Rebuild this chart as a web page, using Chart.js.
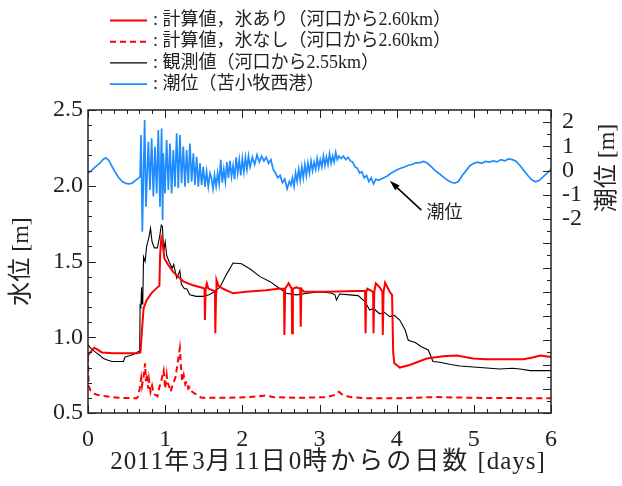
<!DOCTYPE html>
<html>
<head>
<meta charset="utf-8">
<script src="https://cdn.jsdelivr.net/npm/chart.js@4.4.1/dist/chart.umd.min.js"></script>
<style>
body{margin:0;background:#fff}
canvas{display:block}
</style>
</head>
<body>
<canvas id="levelChart" width="622" height="486"></canvas>
<script>
var seriesLabels = [
  ': 計算値，氷あり（河口から2.60km）',
  ': 計算値，氷なし（河口から2.60km）',
  ': 観測値（河口から2.55km）',
  ': 潮位（苫小牧西港）'
];
var xTitle = '2011年3月11日0時からの日数 [days]';
var yTitle = '水位 [m]';
var y2Title = '潮位 [m]';

// computed, with ice
var iceDays = [0.00,0.03,0.08,0.12,0.18,0.33,0.50,0.65,0.68,0.70,0.72,0.76,0.82,0.91,0.925,0.935,0.95,0.97,0.99,1.04,1.10,1.17,1.24,1.35,1.48,1.51,1.515,1.525,1.54,1.56,1.62,1.645,1.65,1.66,1.665,1.69,1.75,1.88,2.05,2.31,2.46,2.54,2.545,2.555,2.60,2.64,2.645,2.655,2.70,2.75,2.757,2.765,2.80,3.10,3.59,3.597,3.605,3.62,3.695,3.70,3.71,3.73,3.78,3.815,3.82,3.83,3.85,3.91,3.94,3.955,3.97,4.04,4.17,4.39,4.60,4.78,4.99,5.16,5.64,5.75,5.86,6.00];
var iceLevels = [0.88,0.90,0.93,0.92,0.90,0.894,0.894,0.894,0.90,1.05,1.19,1.245,1.29,1.334,1.34,1.55,1.653,1.61,1.52,1.477,1.433,1.40,1.367,1.345,1.327,1.32,1.114,1.32,1.356,1.32,1.31,1.30,1.026,1.30,1.378,1.34,1.32,1.29,1.30,1.31,1.32,1.32,1.015,1.32,1.356,1.32,1.026,1.32,1.33,1.32,1.07,1.32,1.30,1.30,1.307,1.026,1.30,1.32,1.30,1.026,1.30,1.356,1.33,1.30,1.015,1.30,1.36,1.30,1.28,0.90,0.828,0.80,0.817,0.86,0.875,0.88,0.86,0.855,0.855,0.865,0.88,0.87];

// computed, without ice
var noIceDays = [0.00,0.005,0.01,0.03,0.07,0.12,0.21,0.40,0.63,0.65,0.67,0.69,0.70,0.72,0.74,0.75,0.76,0.78,0.79,0.81,0.83,0.85,0.87,0.90,0.92,0.95,0.98,0.99,1.00,1.02,1.03,1.05,1.07,1.10,1.13,1.15,1.17,1.19,1.205,1.22,1.24,1.26,1.28,1.30,1.32,1.35,1.41,1.47,1.80,2.10,2.30,2.40,2.70,3.10,3.20,3.25,3.30,3.40,3.60,4.00,4.50,5.00,6.00];
var noIceLevels = [0.88,0.75,0.68,0.65,0.63,0.62,0.612,0.60,0.597,0.61,0.66,0.73,0.68,0.74,0.828,0.71,0.755,0.66,0.72,0.64,0.68,0.63,0.62,0.61,0.66,0.715,0.78,0.73,0.66,0.75,0.70,0.68,0.64,0.69,0.73,0.79,0.86,0.927,0.81,0.71,0.75,0.69,0.71,0.66,0.67,0.64,0.62,0.60,0.60,0.605,0.615,0.605,0.60,0.605,0.62,0.64,0.62,0.605,0.598,0.597,0.605,0.60,0.597];

// observed
var obsDays = [0.00,0.05,0.10,0.155,0.20,0.25,0.31,0.40,0.46,0.48,0.55,0.60,0.65,0.67,0.675,0.685,0.695,0.70,0.71,0.72,0.74,0.76,0.79,0.81,0.83,0.86,0.90,0.93,0.95,0.965,0.98,1.00,1.02,1.05,1.09,1.11,1.15,1.19,1.21,1.25,1.28,1.32,1.40,1.49,1.57,1.62,1.71,1.80,1.88,1.99,2.10,2.23,2.36,2.46,2.57,2.70,2.85,3.00,3.16,3.20,3.22,3.26,3.39,3.50,3.59,3.65,3.70,3.78,3.84,3.91,3.97,4.04,4.11,4.15,4.24,4.32,4.41,4.47,4.56,4.70,4.82,5.08,5.34,5.50,5.60,5.73,6.00];
var obsLevels = [0.95,0.92,0.90,0.88,0.86,0.85,0.84,0.84,0.84,0.87,0.88,0.89,0.905,0.91,1.21,1.20,1.33,1.22,1.24,1.53,1.50,1.60,1.66,1.72,1.63,1.59,1.59,1.67,1.74,1.73,1.565,1.63,1.54,1.50,1.455,1.48,1.39,1.44,1.35,1.32,1.32,1.28,1.27,1.27,1.28,1.295,1.33,1.42,1.49,1.485,1.45,1.40,1.367,1.33,1.29,1.28,1.29,1.30,1.29,1.28,1.245,1.285,1.28,1.275,1.235,1.18,1.19,1.155,1.165,1.136,1.145,1.114,1.048,0.98,0.965,0.937,0.916,0.84,0.835,0.82,0.81,0.80,0.79,0.795,0.79,0.78,0.78];

// tide at Tomakomai west port (right axis)
var tideDays = [0.00,0.05,0.10,0.15,0.20,0.23,0.27,0.31,0.35,0.40,0.45,0.50,0.54,0.58,0.62,0.66,0.675,
  0.687,0.704,0.734,0.751,0.782,0.803,0.825,0.847,0.868,0.890,0.911,0.933,0.954,0.967,0.976,0.997,1.019,1.041,1.062,1.084,1.105,1.127,1.149,1.170,1.192,1.213,1.235,1.257,1.278,1.300,1.321,1.343,1.365,1.386,1.408,1.429,1.451,1.473,1.494,1.516,1.537,1.559,1.581,
  1.60,1.62,1.64,1.66,1.68,1.70,1.72,1.74,1.76,1.78,1.80,1.82,1.84,1.86,1.88,1.90,1.92,1.94,1.96,1.98,2.00,2.02,2.04,2.06,2.08,2.10,2.13,2.16,2.19,2.22,2.25,2.28,2.31,2.34,2.37,2.40,2.43,2.46,2.49,2.52,2.55,2.58,2.61,2.63,2.65,2.67,2.69,2.71,2.73,2.75,2.77,2.79,2.81,2.83,2.85,2.87,2.89,2.91,2.93,2.95,2.97,2.99,3.01,3.03,3.05,3.07,3.09,3.11,3.13,3.15,3.17,3.19,3.21,3.23,3.25,3.28,3.31,3.34,3.37,3.40,3.43,3.46,3.49,3.52,3.55,3.58,3.61,3.64,3.67,3.70,3.73,
  3.76,3.80,3.84,3.88,3.92,3.96,4.00,4.05,4.10,4.15,4.20,4.25,4.30,4.35,4.40,4.45,4.50,4.55,4.60,4.65,4.70,4.75,4.80,4.85,4.90,4.95,5.00,5.05,5.10,5.15,5.20,5.25,5.30,5.35,5.40,5.45,5.50,5.55,5.60,5.65,5.70,5.75,5.80,5.85,5.90,5.95,6.00];
var tideLevels = [-0.10,0.02,0.16,0.30,0.47,0.53,0.42,0.18,-0.05,-0.30,-0.46,-0.54,-0.55,-0.50,-0.39,-0.30,-0.25,
  1.47,-2.52,2.09,-1.49,1.19,-0.80,1.33,-1.07,0.99,-0.94,1.67,-1.49,1.74,-2.04,0.71,-0.94,1.26,-0.80,1.12,-0.94,0.85,-0.66,1.54,-0.73,1.47,-0.52,0.99,-0.66,0.85,-0.52,1.12,-0.46,0.71,-0.59,0.57,-0.66,0.30,-0.59,0.16,-0.66,-0.04,-0.66,-0.11,
  -0.30,-0.75,-0.20,-0.65,-0.10,-0.55,0.45,-0.50,0.05,-0.45,0.35,-0.30,0.40,-0.25,0.20,-0.35,0.55,-0.10,0.45,-0.20,0.50,-0.05,0.55,0.05,0.60,0.15,0.55,0.25,0.65,0.35,0.60,0.40,0.55,0.30,0.45,0.05,-0.10,-0.30,-0.20,-0.50,-0.35,-0.75,-0.45,-0.60,-0.30,-0.65,-0.10,-0.45,0.05,-0.40,0.15,-0.30,0.25,-0.20,0.30,-0.10,0.40,0.00,0.35,0.05,0.50,0.10,0.45,0.15,0.60,0.20,0.55,0.25,0.70,0.30,0.60,0.35,0.75,0.45,0.60,0.50,0.60,0.45,0.55,0.40,0.35,0.15,0.10,-0.10,-0.05,-0.30,-0.20,-0.45,-0.30,-0.55,-0.35,
  -0.40,-0.35,-0.28,-0.22,-0.12,-0.05,0.02,0.10,0.15,0.22,0.25,0.32,0.33,0.38,0.30,0.15,0.00,-0.12,-0.25,-0.38,-0.47,-0.52,-0.45,-0.20,0.00,0.20,0.30,0.35,0.30,0.38,0.35,0.40,0.36,0.45,0.40,0.48,0.45,0.38,0.20,0.00,-0.20,-0.38,-0.46,-0.40,-0.25,-0.10,0.06];

var levelTicks = [0.5, 1.0, 1.5, 2.0, 2.5];
var tideTicks = [-2, -1, 0, 1, 2];
var dayTicks = [0, 1, 2, 3, 4, 5, 6];

var tideNote = { text: '潮位', tipDay: 3.91, tipTide: -0.42, tailDay: 4.32, tailTide: -1.63, textDay: 4.62, textTide: -1.78 };

var serif = '"Liberation Serif", "Noto Sans CJK JP", serif';
var ink = '#222';

var pairs = function(xs, ys){
  return xs.map(function(x, i){ return {x: x, y: ys[i]}; });
};

// title with a little extra tracking: wider on kanji/kana, narrow on latin
var isCjk = /[\u3000-\u9fff\uff00-\uffef]/;
var drawSpacedTitle = function(ctx, text, cx, cy, cjkGap, latinGap){
  var chars = Array.from(text);
  var widths = chars.map(function(c){
    return ctx.measureText(c).width + (isCjk.test(c) ? cjkGap : latinGap);
  });
  var total = widths.reduce(function(s, w){ return s + w; }, 0);
  var x = cx - total / 2;
  ctx.textAlign = 'left';
  chars.forEach(function(c, i){
    ctx.fillText(c, x, cy);
    x += widths[i];
  });
};

// inward tick marks, frame, arrow note and the two hand placed titles
var frameTicks = {
  id: 'frameTicks',
  afterDatasetsDraw: function(chart){
    var ctx = chart.ctx;
    var a = chart.chartArea;
    var sx = chart.scales.x, sy = chart.scales.y, st = chart.scales.y2;
    ctx.save();
    ctx.strokeStyle = ink;
    ctx.lineWidth = 1;
    ctx.beginPath();
    var i, p, len;
    for(i = 0; i <= 36; i++){
      p = Math.round(sx.getPixelForValue(i / 6)) + 0.5;
      len = i % 6 === 0 ? 8 : 4;
      ctx.moveTo(p, a.bottom); ctx.lineTo(p, a.bottom - len);
      ctx.moveTo(p, a.top); ctx.lineTo(p, a.top + len);
    }
    for(i = 5; i <= 25; i++){
      p = Math.round(sy.getPixelForValue(i / 10)) + 0.5;
      len = i % 5 === 0 ? 8 : 4;
      ctx.moveTo(a.left, p); ctx.lineTo(a.left + len, p);
    }
    for(i = -20; i <= 5; i++){
      p = Math.round(st.getPixelForValue(i / 2)) + 0.5;
      len = i % 2 === 0 ? 8 : 4;
      ctx.moveTo(a.right, p); ctx.lineTo(a.right - len, p);
    }
    ctx.stroke();
    ctx.lineWidth = 1.5;
    ctx.strokeRect(a.left, a.top, a.right - a.left, a.bottom - a.top);

    var tx = sx.getPixelForValue(tideNote.tipDay), ty = st.getPixelForValue(tideNote.tipTide);
    var bx = sx.getPixelForValue(tideNote.tailDay), by = st.getPixelForValue(tideNote.tailTide);
    var ang = Math.atan2(ty - by, tx - bx);
    ctx.strokeStyle = '#000';
    ctx.beginPath();
    ctx.moveTo(bx, by); ctx.lineTo(tx - 6 * Math.cos(ang), ty - 6 * Math.sin(ang));
    ctx.stroke();
    ctx.fillStyle = '#000';
    ctx.beginPath();
    ctx.moveTo(tx, ty);
    ctx.lineTo(tx - 11 * Math.cos(ang - 0.3), ty - 11 * Math.sin(ang - 0.3));
    ctx.lineTo(tx - 11 * Math.cos(ang + 0.3), ty - 11 * Math.sin(ang + 0.3));
    ctx.closePath();
    ctx.fill();
    ctx.font = '18px ' + serif;
    ctx.fillStyle = ink;
    ctx.textAlign = 'center';
    ctx.textBaseline = 'middle';
    ctx.fillText(tideNote.text, sx.getPixelForValue(tideNote.textDay), st.getPixelForValue(tideNote.textTide));

    ctx.font = '25px ' + serif;
    drawSpacedTitle(ctx, xTitle, 328, 462, 3, 1);

    // right title reads upward, beside the labelled tide ticks
    ctx.font = '24px ' + serif;
    ctx.textAlign = 'center';
    ctx.translate(608, 168);
    ctx.rotate(-Math.PI / 2);
    ctx.fillText(y2Title, 0, 0);
    ctx.restore();
  }
};

var legendBlock = {
  id: 'legendBlock',
  afterDraw: function(chart){
    var ctx = chart.ctx;
    ctx.save();
    ctx.font = '18px ' + serif;
    ctx.textBaseline = 'middle';
    ctx.textAlign = 'left';
    chart.data.datasets.forEach(function(ds, i){
      var y = 20.5 + i * 21.2;
      ctx.strokeStyle = ds.borderColor;
      ctx.lineWidth = ds.borderWidth;
      ctx.setLineDash(ds.borderDash || []);
      ctx.beginPath();
      ctx.moveTo(110, y); ctx.lineTo(147, y);
      ctx.stroke();
      ctx.setLineDash([]);
      ctx.fillStyle = ink;
      ctx.fillText(ds.label, 153, y);
    });
    ctx.restore();
  }
};

var ctx = document.getElementById('levelChart').getContext('2d');
var levelChart = new Chart(ctx, {
  type: 'scatter',
  data: {
    datasets: [
      { label: seriesLabels[0], data: pairs(iceDays, iceLevels), yAxisID: 'y', borderColor: '#ff0000', borderWidth: 2 },
      { label: seriesLabels[1], data: pairs(noIceDays, noIceLevels), yAxisID: 'y', borderColor: '#ff0000', borderWidth: 2, borderDash: [6, 4] },
      { label: seriesLabels[2], data: pairs(obsDays, obsLevels), yAxisID: 'y', borderColor: '#000000', borderWidth: 1.1 },
      { label: seriesLabels[3], data: pairs(tideDays, tideLevels), yAxisID: 'y2', borderColor: '#1e8cff', borderWidth: 1.7 }
    ]
  },
  options: {
    responsive: false,
    animation: false,
    showLine: true,
    layout: { padding: { top: 110, left: 0, right: 0, bottom: 0 } },
    elements: { point: { radius: 0 }, line: { tension: 0 } },
    plugins: { legend: { display: false }, tooltip: { enabled: false } },
    scales: {
      x: {
        type: 'linear', position: 'bottom', min: 0, max: 6,
        afterBuildTicks: function(s){ s.ticks = dayTicks.map(function(v){ return {value: v}; }); },
        afterFit: function(s){ s.height = 73; },
        grid: { display: false, drawTicks: false },
        border: { display: false },
        ticks: { padding: 12, color: ink, font: { family: serif, size: 24 }, maxRotation: 0 },
        title: { display: false }
      },
      y: {
        type: 'linear', position: 'left', min: 0.5, max: 2.5,
        afterBuildTicks: function(s){ s.ticks = levelTicks.map(function(v){ return {value: v}; }); },
        afterFit: function(s){ s.width = 88; },
        grid: { display: false, drawTicks: false },
        border: { display: false },
        ticks: { padding: 5, color: ink, font: { family: serif, size: 24 }, callback: function(v){ return v.toFixed(1); } },
        title: { display: true, text: yTitle, color: ink, font: { family: serif, size: 24 }, padding: { top: 7, bottom: 0 } }
      },
      y2: {
        type: 'linear', position: 'right', min: -10, max: 2.5,
        afterBuildTicks: function(s){ s.ticks = tideTicks.map(function(v){ return {value: v}; }); },
        afterFit: function(s){ s.width = 71; },
        grid: { display: false, drawTicks: false },
        border: { display: false },
        ticks: { padding: 11, color: ink, font: { family: serif, size: 24 }, callback: function(v){ return String(v); } },
        title: { display: false }
      }
    }
  },
  plugins: [frameTicks, legendBlock]
});
</script>
</body>
</html>
